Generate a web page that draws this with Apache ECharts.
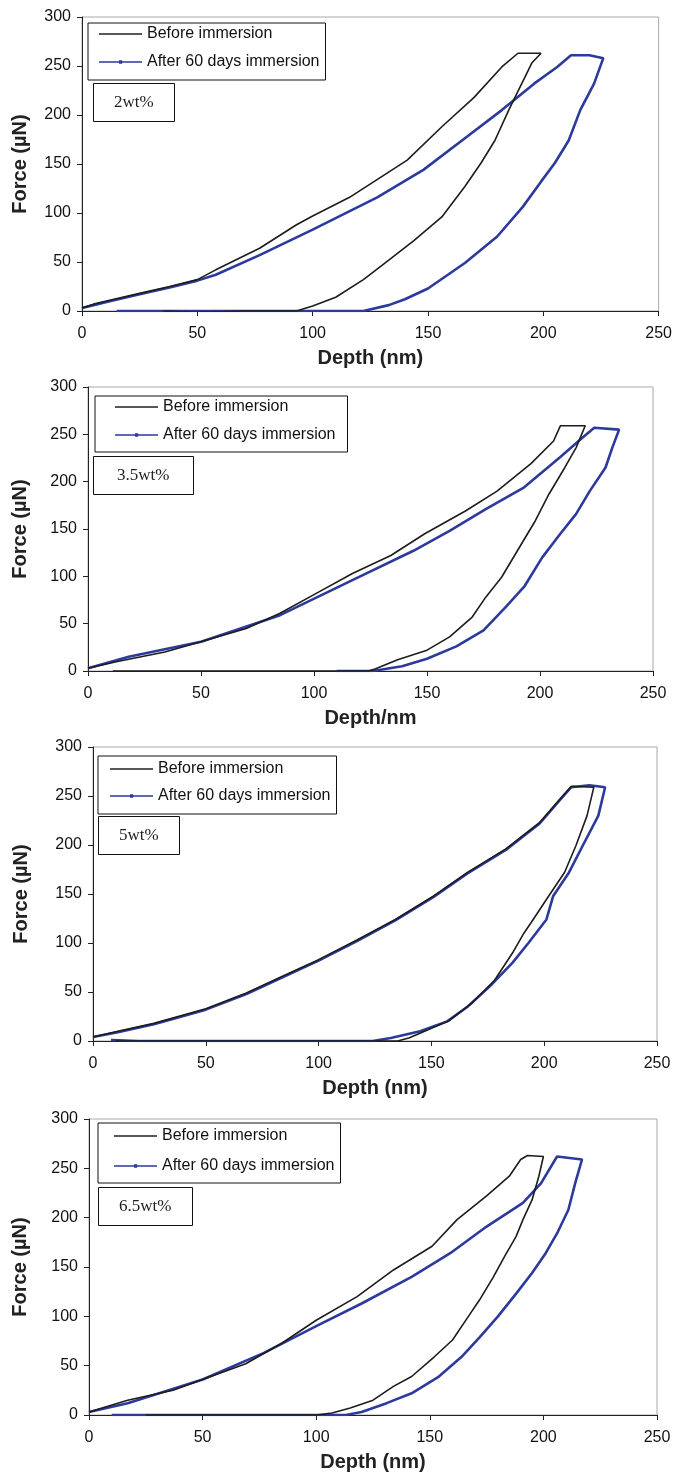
<!DOCTYPE html>
<html>
<head>
<meta charset="utf-8">
<script src="https://cdn.jsdelivr.net/npm/echarts@6.0.0/dist/echarts.min.js"></script>
<style>
html,body{margin:0;padding:0;background:#fff;}
#chart{width:675px;height:1476px;}
</style>
</head>
<body>
<div id="chart"></div>
<script>
// ---- data (depth nm, force µN) ----
const seriesNames = ['Before immersion', 'After 60 days immersion'];
const panelLabels = ['2wt%', '3.5wt%', '5wt%', '6.5wt%'];
const xTitles = ['Depth (nm)', 'Depth/nm', 'Depth (nm)', 'Depth (nm)'];
const yTitle = 'Force (µN)';
const xTicks = [0, 50, 100, 150, 200, 250];
const yTicks = [0, 50, 100, 150, 200, 250, 300];

const p1Before = [[0,3],[5,7],[12,11],[25,18],[38,25],[50,32],[58,42],[77,64],[93,88],[100,97],[116,116],[141,154],[156,188],[170,218],[182,249],[189,263],[199,263],
  [195,253],[190,229],[185,205],[179,174],[173,151],[166,127],[156,96],[144,72],[133,52],[122,32],[110,14],[100,5],[93,0],[70,0],[50,-1],[35,0]];
const p1After = [[0,3],[5,6],[12,10],[25,17],[38,24],[50,31],[58,37],[77,57],[100,83],[128,116],[148,144],[167,178],[182,205],[196,232],[206,249],[212,261],[220,261],[226,258],
  [222,232],[216,205],[211,174],[205,151],[199,132],[191,106],[180,76],[166,49],[150,23],[140,12],[133,6],[122,0],[100,0],[70,0],[40,0],[20,0],[15,0]];

const p2Before = [[0,3],[13,10],[34,20],[50,31],[70,45],[85,61],[101,82],[117,103],[134,122],[149,145],[167,169],[181,190],[196,219],[206,243],[209,259],[220,259],
  [216,236],[211,215],[204,187],[198,159],[190,127],[183,99],[176,78],[170,57],[160,36],[150,22],[137,12],[127,2],[124,0],[90,0],[50,0],[11,0]];
const p2After = [[0,3],[18,15],[50,31],[85,59],[117,96],[144,127],[160,148],[176,171],[193,194],[209,226],[219,247],[224,257],[235,255],
  [232,236],[229,215],[222,190],[216,166],[209,145],[201,120],[193,89],[185,68],[175,43],[163,26],[150,13],[139,5],[126,0],[110,0]];

const p3Before = [[0,4],[11,10],[27,18],[50,33],[68,49],[84,66],[100,83],[117,103],[134,124],[151,148],[166,172],[183,196],[198,223],[207,247],[212,260],[222,259],
  [219,230],[214,199],[209,172],[202,148],[196,127],[191,110],[186,90],[178,62],[168,39],[158,21],[148,11],[140,3],[135,0],[100,0],[50,0],[10,0]];
const p3After = [[0,4],[11,9],[27,17],[50,32],[68,48],[84,65],[100,82],[117,102],[134,123],[151,147],[166,171],[183,195],[198,222],[207,246],[212,259],[220,261],[227,259],
  [224,230],[217,199],[211,172],[204,148],[201,124],[193,100],[186,80],[176,56],[166,35],[157,20],[145,10],[132,3],[124,0],[90,0],[50,0],[20,0],[8,1]];

const p4Before = [[0,3],[17,15],[37,25],[50,36],[69,52],[85,73],[100,96],[118,120],[134,147],[151,171],[162,198],[175,222],[185,242],[190,259],[193,263],[200,262],
  [198,242],[195,218],[191,198],[188,181],[183,161],[178,140],[172,117],[167,100],[160,76],[152,59],[142,39],[134,29],[125,15],[115,7],[107,2],[100,0],[60,0],[25,0]];
const p4After = [[0,3],[17,12],[50,36],[77,63],[100,90],[120,113],[142,140],[159,164],[175,191],[191,215],[199,235],[206,262],[217,259],
  [214,235],[211,208],[206,184],[201,164],[195,144],[188,123],[180,100],[172,79],[164,59],[154,39],[142,22],[131,12],[120,3],[113,0],[60,0],[10,0]];

const beforeData = [p1Before, p2Before, p3Before, p4Before];
const afterData = [p1After, p2After, p3After, p4After];

// ---- layout ----
const grids = [
  {left: 82, top: 17, width: 577, height: 294},
  {left: 88, top: 387, width: 565, height: 284},
  {left: 93, top: 747, width: 564, height: 294},
  {left: 89, top: 1119, width: 568, height: 296}
];
const yNameGap = [52, 58, 62, 59];
const legendPos = [
  {left: 88, top: 23, padding: [3, 6, 10, 11], itemGap: 12},
  {left: 95, top: 396, padding: [3, 12, 9, 20], itemGap: 12},
  {left: 98, top: 756, padding: [5, 6, 10, 12], itemGap: 11},
  {left: 98, top: 1123, padding: [5, 6, 9, 16], itemGap: 14}
];
const labelPos = [
  {left: 93, top: 83, padding: [11, 21, 11, 21]},
  {left: 93, top: 456, padding: [11, 24, 11, 24]},
  {left: 98, top: 816, padding: [11, 21, 11, 21]},
  {left: 98, top: 1187, padding: [11, 21, 11, 21]}
];

const FONT = '"Liberation Sans", Arial, sans-serif';
const BLACK = '#1c1c1c';
const BLUE = '#2b3a9c';
// legend glyphs: a plain line, and a line with a small dot (bbox padded to 43x14)
const ICON_LINE = 'path://M0,0h0.01v0.01h-0.01z M0,6.3h43v1.5h-43z M42.99,13.99h0.01v0.01h-0.01z';
const ICON_DOT = 'path://M0,0h0.01v0.01h-0.01z M0,6.3h43v1.5h-43z M20,5.3h3.2v3.4h-3.2z M42.99,13.99h0.01v0.01h-0.01z';

const option = {
  animation: false,
  backgroundColor: '#fff',
  grid: grids.map(g => Object.assign({show: true, borderColor: '#a8a8a8', borderWidth: 1, containLabel: false}, g)),
  xAxis: grids.map((g, i) => ({
    type: 'value', gridIndex: i, min: xTicks[0], max: xTicks[xTicks.length - 1], interval: xTicks[1] - xTicks[0],
    name: xTitles[i], nameLocation: 'middle', nameGap: 37,
    nameTextStyle: {fontFamily: FONT, fontSize: 20, fontWeight: 'bold', color: '#222'},
    axisLine: {show: true, onZero: false, lineStyle: {color: '#222', width: 1}},
    axisTick: {show: true, inside: false, length: 5, lineStyle: {color: '#222'}},
    axisLabel: {fontFamily: FONT, fontSize: 16, color: '#111', margin: 15},
    splitLine: {show: false}
  })),
  yAxis: grids.map((g, i) => ({
    type: 'value', gridIndex: i, min: yTicks[0], max: yTicks[yTicks.length - 1], interval: yTicks[1] - yTicks[0],
    name: yTitle, nameLocation: 'middle', nameRotate: 90, nameGap: yNameGap[i],
    nameTextStyle: {fontFamily: FONT, fontSize: 20, fontWeight: 'bold', color: '#222'},
    axisLine: {show: true, onZero: false, lineStyle: {color: '#222', width: 1}},
    axisTick: {show: true, inside: false, length: 5, lineStyle: {color: '#222'}},
    axisLabel: {fontFamily: FONT, fontSize: 16, color: '#111', margin: 11},
    splitLine: {show: false}
  })),
  legend: legendPos.map(l => ({
    orient: 'vertical', left: l.left, top: l.top, padding: l.padding, itemGap: l.itemGap,
    itemWidth: 43, itemHeight: 14, borderColor: '#111', borderWidth: 1,
    textStyle: {fontFamily: FONT, fontSize: 16, color: '#111'},
    data: [
      {name: seriesNames[0], icon: ICON_LINE, itemStyle: {color: '#222'}},
      {name: seriesNames[1], icon: ICON_DOT, itemStyle: {color: BLUE}}
    ],
    selectedMode: false
  })),
  title: labelPos.map((p, i) => ({
    text: panelLabels[i], left: p.left, top: p.top, padding: p.padding,
    borderColor: '#111', borderWidth: 1,
    textStyle: {fontFamily: '"Liberation Serif", "Times New Roman", serif', fontSize: 17, fontWeight: 'normal', color: '#222'}
  })),
  series: []
};

for (let i = 0; i < 4; i++) {
  option.series.push({
    name: seriesNames[0], type: 'line', xAxisIndex: i, yAxisIndex: i,
    data: beforeData[i], symbol: 'none', smooth: false,
    lineStyle: {color: BLACK, width: 1.6}, itemStyle: {color: BLACK}, z: 3
  });
  option.series.push({
    name: seriesNames[1], type: 'line', xAxisIndex: i, yAxisIndex: i,
    data: afterData[i], symbol: 'circle', symbolSize: 3, showSymbol: false, smooth: false,
    lineStyle: {color: BLUE, width: 2.6}, itemStyle: {color: BLUE}, z: 2
  });
}

const chart = echarts.init(document.getElementById('chart'), null, {renderer: 'canvas'});
chart.setOption(option);
</script>
</body>
</html>
